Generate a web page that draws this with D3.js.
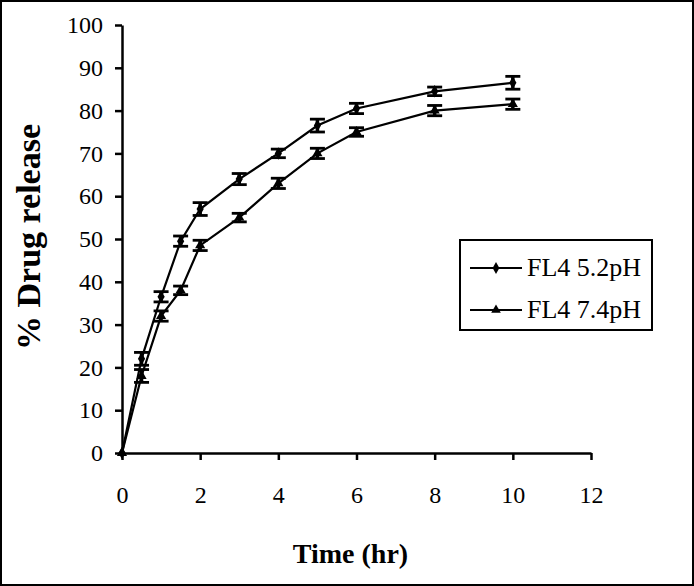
<!DOCTYPE html>
<html lang="en">
<head>
<meta charset="UTF-8">
<title>Drug release</title>
<script src="https://cdn.jsdelivr.net/npm/d3@7"></script>
<style>
body { margin: 0; background: #fff; }
svg text { font-family: "Liberation Serif", "Times New Roman", serif; fill: #000; }
</style>
</head>
<body>
<script>
// data
var times = [0, 0.5, 1, 1.5, 2, 3, 4, 5, 6, 8, 10];
var ph52 = [0, 22, 36.5, 49.5, 57, 64, 70, 76.5, 80.5, 84.5, 86.5];
var ph52err = [0, 1.5, 1.2, 1.2, 1.5, 1.3, 1.0, 1.5, 1.2, 1.0, 1.5];
var ph74 = [0, 18, 32, 38, 48.5, 55, 63, 70, 75, 80, 81.5];
var ph74err = [0, 1.5, 1.2, 1.0, 1.2, 1.0, 1.2, 1.2, 1.0, 1.2, 1.2];
var xTicks = [0, 2, 4, 6, 8, 10, 12];
var yTicks = [0, 10, 20, 30, 40, 50, 60, 70, 80, 90, 100];
var seriesNames = ["FL4 5.2pH", "FL4 7.4pH"];

var W = 694, H = 586;
var svg = d3.select("body").append("svg")
    .attr("width", W)
    .attr("height", H);

// outer frame
svg.append("rect")
    .attr("x", 1).attr("y", 1)
    .attr("width", W - 2).attr("height", H - 2)
    .attr("fill", "none").attr("stroke", "#000").attr("stroke-width", 2);

var x = d3.scaleLinear().domain([0, 12]).range([122, 591]);
var y = d3.scaleLinear().domain([0, 100]).range([453, 25]);

var xAxis = svg.append("g")
    .attr("transform", "translate(0," + y(0) + ")")
    .call(d3.axisBottom(x).tickValues(xTicks).tickSize(7).tickPadding(26).tickSizeOuter(0));
var yAxis = svg.append("g")
    .attr("transform", "translate(" + x(0) + ",0)")
    .call(d3.axisLeft(y).tickValues(yTicks).tickSize(7).tickPadding(12).tickSizeOuter(0));

[xAxis, yAxis].forEach(function(a) {
    a.select(".domain").attr("stroke", "#000").attr("stroke-width", 2.5);
    a.selectAll(".tick line").attr("stroke", "#000").attr("stroke-width", 2.5);
    a.selectAll(".tick text")
        .style("font-family", "'Liberation Serif', serif")
        .style("font-size", "24px")
        .attr("fill", "#000");
});

svg.append("text")
    .attr("x", x(6) - 6).attr("y", 563)
    .attr("text-anchor", "middle")
    .style("font-size", "28px").style("font-weight", "bold")
    .text("Time (hr)");

svg.append("text")
    .attr("transform", "translate(40," + (y(50) - 2) + ") rotate(-90)")
    .attr("text-anchor", "middle")
    .style("font-size", "34px").style("font-weight", "bold")
    .text("% Drug release");

var line = d3.line()
    .x(function(d) { return x(d.t); })
    .y(function(d) { return y(d.v); });

function drawSeries(vals, errs, shape) {
    var pts = times.map(function(t, i) { return { t: t, v: vals[i], e: errs[i] }; });
    var g = svg.append("g");
    g.append("path")
        .attr("d", line(pts))
        .attr("fill", "none").attr("stroke", "#000").attr("stroke-width", 2.2);

    var eb = g.selectAll(".eb").data(pts.filter(function(d) { return d.e > 0; })).enter();
    eb.append("line")
        .attr("x1", function(d) { return x(d.t); }).attr("x2", function(d) { return x(d.t); })
        .attr("y1", function(d) { return y(d.v + d.e); }).attr("y2", function(d) { return y(d.v - d.e); })
        .attr("stroke", "#000").attr("stroke-width", 3.5);
    [1, -1].forEach(function(s) {
        eb.append("line")
            .attr("x1", function(d) { return x(d.t) - 7.5; }).attr("x2", function(d) { return x(d.t) + 7.5; })
            .attr("y1", function(d) { return y(d.v + s * d.e); }).attr("y2", function(d) { return y(d.v + s * d.e); })
            .attr("stroke", "#000").attr("stroke-width", 2.8);
    });

    g.selectAll(".mk").data(pts).enter().append("path")
        .attr("transform", function(d) { return "translate(" + x(d.t) + "," + y(d.v) + ")"; })
        .attr("d", d3.symbol().type(shape).size(45))
        .attr("fill", "#000");
}

drawSeries(ph52, ph52err, d3.symbolDiamond);
drawSeries(ph74, ph74err, d3.symbolTriangle);

// legend
var lg = svg.append("g");
lg.append("rect")
    .attr("x", 460).attr("y", 240).attr("width", 192).attr("height", 90)
    .attr("fill", "#fff").attr("stroke", "#000").attr("stroke-width", 2);
var shapes = [d3.symbolDiamond, d3.symbolTriangle];
seriesNames.forEach(function(name, i) {
    var ly = 268 + i * 42;
    lg.append("line")
        .attr("x1", 470).attr("x2", 522).attr("y1", ly).attr("y2", ly)
        .attr("stroke", "#000").attr("stroke-width", 2);
    lg.append("path")
        .attr("transform", "translate(496," + ly + ")")
        .attr("d", d3.symbol().type(shapes[i]).size(40))
        .attr("fill", "#000");
    lg.append("text")
        .attr("x", 527).attr("y", ly + 8)
        .style("font-size", "26px")
        .text(name);
});
</script>
</body>
</html>
